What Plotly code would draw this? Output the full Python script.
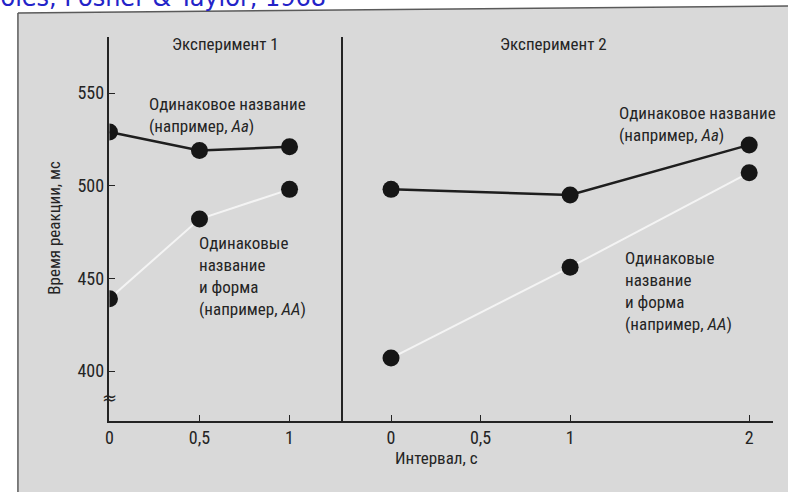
import plotly.graph_objects as go

# ---- data ----
exp1_x = [0, 0.5, 1]
exp1_same_name = [529, 519, 521]      # Одинаковое название (Aa)
exp1_same_form = [439, 482, 498]      # Одинаковые название и форма (AA)

exp2_x = [0, 1, 2]
exp2_same_name = [498, 495, 522]
exp2_same_form = [407, 456, 507]

y_ticks = [400, 450, 500, 550]
exp1_ticks = [0, 0.5, 1]
exp1_ticklabels = ["0", "0,5", "1"]
exp2_ticks = [0, 0.5, 1, 2]
exp2_ticklabels = ["0", "0,5", "1", "2"]

W, H = 788, 492
def px(x):
    return x / W
def py(y):
    return 1 - y / H

FONT = "Liberation Sans Narrow, Arial Narrow, Roboto Condensed, Liberation Sans, sans-serif"
INK = "#242424"
BG = "#d9d9d9"

fig = go.Figure()

black_line = dict(color="#1e1e1e", width=2.5)
white_line = dict(color="#f4f4f4", width=2)
marker = dict(color="#161616", size=17)

fig.add_trace(go.Scatter(x=exp1_x, y=exp1_same_form, mode="lines", line=white_line,
                         xaxis="x", yaxis="y", hoverinfo="skip"))
fig.add_trace(go.Scatter(x=exp1_x, y=exp1_same_name, mode="lines+markers", line=black_line,
                         marker=marker, xaxis="x", yaxis="y"))
fig.add_trace(go.Scatter(x=exp1_x, y=exp1_same_form, mode="markers", marker=marker,
                         xaxis="x", yaxis="y"))
fig.add_trace(go.Scatter(x=exp2_x, y=exp2_same_form, mode="lines", line=white_line,
                         xaxis="x2", yaxis="y2", hoverinfo="skip"))
fig.add_trace(go.Scatter(x=exp2_x, y=exp2_same_name, mode="lines+markers", line=black_line,
                         marker=marker, xaxis="x2", yaxis="y2"))
fig.add_trace(go.Scatter(x=exp2_x, y=exp2_same_form, mode="markers", marker=marker,
                         xaxis="x2", yaxis="y2"))

# axis geometry (pixels)
x1_left, x1_right = 106, 341
x2_left, x2_right = 341, 773
y_top, y_bot = 37, 421
unit1 = 181.0
unit2 = 180.0
x1_range = [0, (x1_right - x1_left) / unit1]
x2_zero = 389
x2_range = [(x2_left - x2_zero) / unit2, (x2_right - x2_zero) / unit2]
y_scale = (371 - 93) / 150.0
y_range = [400 - (y_bot - 371) / y_scale, 550 + (93 - y_top) / y_scale]

tickfont = dict(family=FONT, size=18, color=INK)
common_x = dict(showline=True, linecolor=INK, linewidth=1.6, ticks="inside", ticklen=6,
                tickcolor=INK, tickwidth=1.4, showgrid=False, zeroline=False,
                tickfont=tickfont, fixedrange=True)

fig.update_layout(
    width=W, height=H,
    margin=dict(l=0, r=0, t=0, b=0),
    paper_bgcolor="white", plot_bgcolor="rgba(0,0,0,0)",
    showlegend=False,
    xaxis=dict(domain=[px(x1_left), px(x1_right)], range=x1_range, anchor="y",
               tickvals=exp1_ticks, ticktext=exp1_ticklabels, **common_x),
    xaxis2=dict(domain=[px(x2_left), px(x2_right)], range=x2_range, anchor="y2",
                tickvals=exp2_ticks, ticktext=exp2_ticklabels, **common_x),
    yaxis=dict(domain=[py(y_bot), py(y_top)], range=y_range, anchor="x",
               showline=True, linecolor=INK, linewidth=1.6, ticks="inside", ticklen=6,
               tickcolor=INK, tickwidth=1.4, tickvals=y_ticks, showgrid=False,
               zeroline=False, tickfont=tickfont, fixedrange=True),
    yaxis2=dict(domain=[py(y_bot), py(y_top)], range=y_range, anchor="x2",
                showline=True, linecolor=INK, linewidth=1.6, ticks="",
                showticklabels=False, showgrid=False, zeroline=False, fixedrange=True),
)

# grey scanned panel with its frame (left and top edges)
path = "M {:.5f},{:.5f} L {:.5f},{:.5f} L {:.5f},{:.5f} L {:.5f},{:.5f} Z".format(
    px(14), py(13), px(790), py(6), px(790), py(495), px(14), py(495))
fig.add_shape(type="path", xref="paper", yref="paper", path=path,
              fillcolor=BG, line=dict(width=0), layer="below")
frame = dict(color="#5a5a5a", width=1.5)
fig.add_shape(type="line", xref="paper", yref="paper", x0=px(14), y0=py(13),
              x1=px(14), y1=py(495), line=frame, layer="below")
fig.add_shape(type="line", xref="paper", yref="paper", x0=px(14), y0=py(13),
              x1=px(790), y1=py(6), line=frame, layer="below")

ann_font = dict(family=FONT, size=17, color=INK)
annotations = [
    dict(text="Boies, Posner & Taylor, 1968", x=px(326), y=py(14), xanchor="right",
         yanchor="bottom", font=dict(family="DejaVu Sans", size=24, color="#2323c8")),
    dict(text="Эксперимент 1", x=px(223), y=py(44), xanchor="center", yanchor="middle",
         font=ann_font),
    dict(text="Эксперимент 2", x=px(552), y=py(44), xanchor="center", yanchor="middle",
         font=ann_font),
    dict(text="Время реакции, мс", x=px(50), y=py(228), textangle=-90,
         xanchor="center", yanchor="middle", font=ann_font),
    dict(text="Интервал, с", x=px(435), y=py(458), xanchor="center", yanchor="middle",
         font=ann_font),
    dict(text="≈", x=px(106), y=py(397), xanchor="center", yanchor="middle",
         font=dict(family="DejaVu Sans", size=18, color=INK)),
    dict(text="Одинаковое название<br>(например, <i>Aa</i>)", x=px(144), y=py(92),
         xanchor="left", yanchor="top", align="left", font=ann_font),
    dict(text="Одинаковые<br>название<br>и форма<br>(например, <i>AA</i>)", x=px(194),
         y=py(231), xanchor="left", yanchor="top", align="left", font=ann_font),
    dict(text="Одинаковое название<br>(например, <i>Aa</i>)", x=px(616), y=py(101),
         xanchor="left", yanchor="top", align="left", font=ann_font),
    dict(text="Одинаковые<br>название<br>и форма<br>(например, <i>AA</i>)", x=px(622),
         y=py(246), xanchor="left", yanchor="top", align="left", font=ann_font),
]
for a in annotations:
    a.setdefault("showarrow", False)
    a["xref"] = "paper"
    a["yref"] = "paper"
fig.update_layout(annotations=annotations)

fig.write_html(
    "out.html",
    config={"displayModeBar": False},
    post_script=("document.body.style.margin='0';document.body.style.overflow='hidden';"
                 "document.documentElement.style.overflow='hidden';"),
)
